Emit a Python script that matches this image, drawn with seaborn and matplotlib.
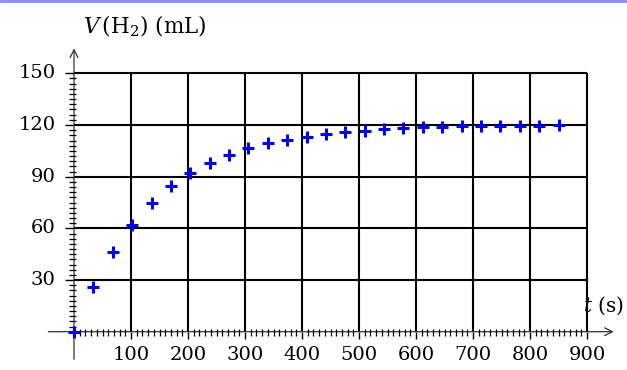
import matplotlib
matplotlib.use("Agg")
import matplotlib.pyplot as plt
from matplotlib.lines import Line2D
import seaborn as sns
import pandas as pd

# Data
t_s = [0, 34, 68, 102, 136, 170, 204, 238, 272, 306, 340, 374, 408, 442, 476,
       510, 544, 578, 612, 646, 680, 714, 748, 782, 816, 850]
v_ml = [0, 26, 46, 62, 74.5, 84.5, 92, 98, 102.5, 106.5, 109.3, 111.5, 113.3,
        114.7, 115.8, 116.8, 117.5, 118.2, 118.6, 118.9, 119.2, 119.4, 119.5,
        119.6, 119.7, 119.8]
x_ticks = [100, 200, 300, 400, 500, 600, 700, 800, 900]
y_ticks = [30, 60, 90, 120, 150]

df = pd.DataFrame({"t": t_s, "V": v_ml})

sns.set_theme(style="white")
plt.rcParams["font.family"] = ["DejaVu Serif"]
plt.rcParams["mathtext.fontset"] = "dejavuserif"
plt.rcParams["text.color"] = "black"

W, H = 627, 370
fig = plt.figure(figsize=(W / 100, H / 100), dpi=100)

# pixel mapping
x0px, xscale = 74.0, 0.57        # px per unit
y0px, yscale = 331.7, 1.7225     # px per unit (from top)
xlim = (-45, 955)
ylim = (-16, 165)
left = (x0px + xlim[0] * xscale) / W
width = (xlim[1] - xlim[0]) * xscale / W
bottom = (H - (y0px - ylim[0] * yscale)) / H
height = (ylim[1] - ylim[0]) * yscale / H
ax = fig.add_axes([left, bottom, width, height])
ax.set_xlim(*xlim)
ax.set_ylim(*ylim)
ax.set_facecolor("white")

# grid restricted to the data window
ax.hlines(y_ticks, 0, 900, colors="black", linewidth=1.5, zorder=1)
ax.vlines(x_ticks, 0, 150, colors="black", linewidth=1.5, zorder=1)
ax.hlines(y_ticks, -16, 0, colors="black", linewidth=1.0, zorder=1)
ax.vlines(x_ticks, -4, 0, colors="black", linewidth=1.0, zorder=1)

# axes with arrows
for s in ax.spines.values():
    s.set_visible(False)
ax.annotate("", xy=(947, 0), xytext=(-45, 0),
            arrowprops=dict(arrowstyle="->", color="#333333", lw=0.9,
                            shrinkA=0, shrinkB=0, mutation_scale=14), zorder=2)
ax.annotate("", xy=(0, 164.5), xytext=(0, -16),
            arrowprops=dict(arrowstyle="->", color="#333333", lw=0.9,
                            shrinkA=0, shrinkB=0, mutation_scale=14), zorder=2)

# minor ticks crossing the axis lines
minor_x = [v for v in range(10, 900, 10) if v % 100 != 0]
minor_y = [v for v in range(3, 150, 3) if v % 30 != 0]
ax.vlines(minor_x, -2.6, 1.8, colors="black", linewidth=0.9, zorder=2)
ax.hlines(minor_y, -9, 3.5, colors="black", linewidth=0.9, zorder=2)

ax.set_xticks([])
ax.set_yticks([])
for v in x_ticks:
    ax.text(v, -8.5, str(v), ha="center", va="top", fontsize=14, color="black")
for v in y_ticks:
    ax.text(-32, v, str(v), ha="right", va="center", fontsize=14, color="black")

# data points
sns.scatterplot(data=df, x="t", y="V", marker="+", s=75, linewidth=2.2,
                color="#0000ff", ax=ax, legend=False, zorder=5)
ax.set_xlabel("")
ax.set_ylabel("")

# axis titles
fig.text(83 / W, 1 - 33 / H, r"$V\,(\mathrm{H_2})$ (mL)", fontsize=15.5,
         ha="left", va="baseline", color="black")
fig.text(583 / W, 1 - 312 / H, r"$t$ (s)", fontsize=14.5, ha="left",
         va="baseline", color="black")

# top border line
fig.add_artist(Line2D([0, 1], [1 - 1 / H, 1 - 1 / H], color="#8888ff",
                      linewidth=2, transform=fig.transFigure))

fig.savefig("out.png", dpi=100, facecolor="white")
